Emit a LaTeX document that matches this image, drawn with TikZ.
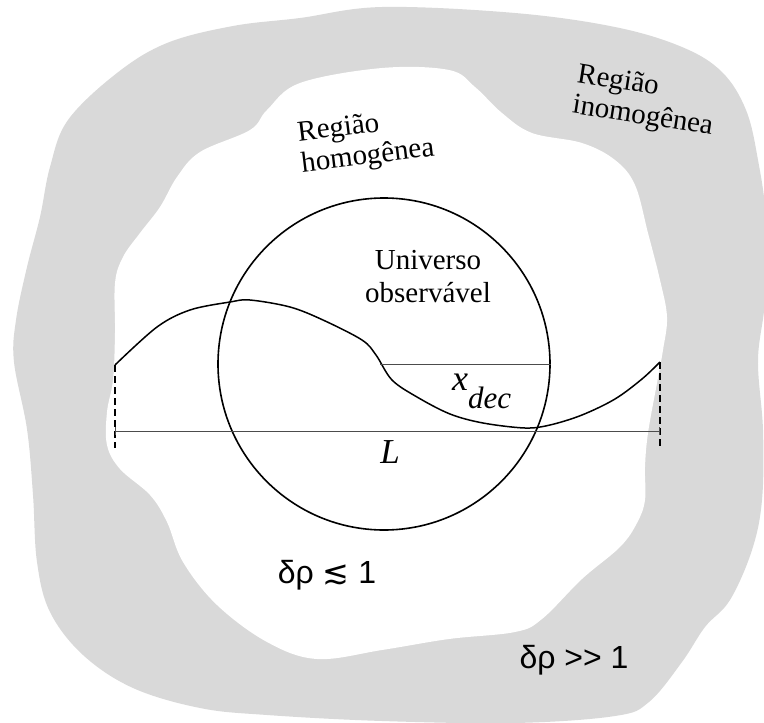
\documentclass[tikz,border=0pt]{standalone}
\usepackage{fontspec}
\setmainfont{Liberation Serif}
\setsansfont{Liberation Sans}
\newfontfamily\symfont{DejaVu Sans}
\definecolor{blobgray}{RGB}{217,217,217}
\begin{document}
\begin{tikzpicture}[x=1pt,y=-1pt,
	region/.style={font=\fontsize{29}{31}\selectfont,align=left,inner sep=0pt},
	dens/.style={font=\sffamily\fontsize{32}{34}\selectfont,inner sep=0pt},
	bound/.style={dash pattern=on 7pt off 4pt,line width=1.5pt},
	ruler/.style={line width=1pt,black!70}]
	\useasboundingbox (0,0) rectangle (764,723);
	% inhomogeneous region
	\fill[blobgray] plot[smooth cycle,tension=0.6] coordinates {
		(382,7) (515,13) (615,27) (682,47) (722,72) (746,110) (758,160)
		(766,220) (765,300) (758,360) (763,430) (762,500) (752,550)
		(730,600) (705,627) (682,662) (649,702) (615,716) (515,723)
		(382,721) (267,715) (200,708) (133,688) (83,655) (50,612)
		(37,562) (33,495) (27,429) (14,362) (16,320) (27,267) (40,217)
		(50,167) (68,120) (117,73) (167,43) (233,26) (300,18)};
	% homogeneous region
	\fill[white] plot[smooth cycle,tension=0.6] coordinates {
		(382,68) (449,70) (475,87) (502,113) (532,133) (582,143) (615,160)
		(635,185) (648,233) (660,280) (667,317) (663,350) (657,383)
		(648,433) (645,467) (645,500) (637,523) (620,547) (582,579)
		(542,619) (515,632) (449,639) (382,650) (317,659) (267,642)
		(217,605) (183,562) (167,522) (150,495) (120,469) (107,445)
		(107,412) (113,380) (115,333) (115,283) (123,257) (140,233)
		(160,207) (177,177) (200,152) (250,130) (267,110) (300,83)};
	% observable universe
	\node[draw,circle,line width=1.6pt,minimum size=332pt,inner sep=0pt] (univ) at (384,364) {};
	\coordinate (cl) at (115,365);
	\coordinate (cr) at (660,362);
	\coordinate (dl) at (115,448);
	\coordinate (dr) at (660,446);
	\coordinate (Lleft) at (115,431);
	\coordinate (Lright) at (660,431);
	\coordinate (xd) at (380,364);
	\draw[line width=1.5pt] plot[smooth,tension=0.55] coordinates {
		(cl) (157,327) (190,310) (230,302) (250,300) (290,307) (323,320)
		(362,340) (376,355) (392,380) (417,397) (450,414) (483,423)
		(525,428) (550,425) (582,415) (615,399) (642,379) (cr)};
	\draw[bound] (cl) -- (dl);
	\draw[bound] (cr) -- (dr);
	\draw[ruler,|-|] (Lleft) -- (Lright);
	\draw[ruler] (xd) -- (univ.east);
	% labels
	\node[region,rotate=7] (homreg) at (366,142) {Região\\homogênea};
	\node[region,rotate=-9] (inhreg) at (645,102) {Região\\inomogênea};
	\node[region,align=center,font=\fontsize{29}{33}\selectfont] (obs) at (428,277) {Universo\\observável};
	\node[anchor=base west,inner sep=0pt] (xdec) at (452,390)
		{\fontsize{36}{36}\selectfont\textit{x}\raisebox{-18pt}{\fontsize{31}{31}\selectfont\textit{dec}}};
	\node[inner sep=0pt,font=\fontsize{35}{35}\selectfont] (Llab) at (390,452) {\textit{L}};
	\node[dens] (dlow) at (327,575) {δρ {\symfont ≲} 1};
	\node[dens] (dhigh) at (574,660) {δρ >\kern0pt> 1};
\end{tikzpicture}
\end{document}
